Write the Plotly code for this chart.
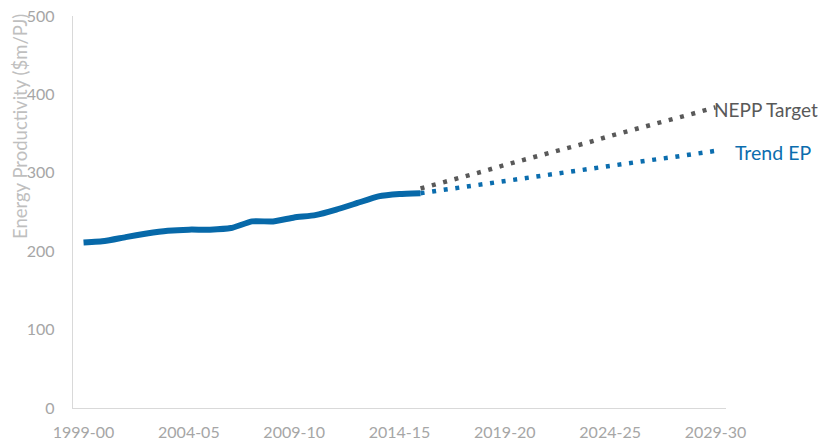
import plotly.graph_objects as go

# Financial years on the category axis
YEARS = [
    "1999-00", "2000-01", "2001-02", "2002-03", "2003-04", "2004-05",
    "2005-06", "2006-07", "2007-08", "2008-09", "2009-10", "2010-11",
    "2011-12", "2012-13", "2013-14", "2014-15", "2015-16", "2016-17",
    "2017-18", "2018-19", "2019-20", "2020-21", "2021-22", "2022-23",
    "2023-24", "2024-25", "2025-26", "2026-27", "2027-28", "2028-29",
    "2029-30",
]
TICK_LABELS = ["1999-00", "2004-05", "2009-10", "2014-15", "2019-20", "2024-25", "2029-30"]

# Historical energy productivity, 1999-00 to 2015-16 ($m/PJ)
HIST_YEARS = YEARS[:17]
HIST_EP = [211, 213, 218, 222.5, 226, 227.5, 227.5, 229.5, 238, 238,
           243, 246, 253, 261.5, 270, 273, 274]

# Projections, 2015-16 to 2029-30
PROJ_YEARS = YEARS[16:]
NEPP_TARGET = [280, 287, 295, 302, 310, 317, 324, 332, 339, 347,
               354, 361, 369, 376, 383.5]
TREND_EP = [274, 278, 282, 285.5, 289.5, 293, 297, 301, 305, 308.5,
            312.5, 316.5, 320, 324, 328]

Y_TICKS = [0, 100, 200, 300, 400, 500]

BLUE = "#0769A9"
BLUE_DOT = "#0B6DAE"
GREY_DOT = "#595959"
AXIS_TEXT = "#A6A6A6"
FONT = "Lato"

fig = go.Figure()

fig.add_trace(go.Scatter(
    x=PROJ_YEARS, y=NEPP_TARGET, mode="lines",
    line=dict(color=GREY_DOT, width=4.5, dash="4px,7.7px"),
    name="NEPP Target", hoverinfo="x+y",
))
fig.add_trace(go.Scatter(
    x=PROJ_YEARS, y=TREND_EP, mode="lines",
    line=dict(color=BLUE_DOT, width=4.5, dash="4px,7.7px"),
    name="Trend EP", hoverinfo="x+y",
))
fig.add_trace(go.Scatter(
    x=HIST_YEARS, y=HIST_EP, mode="lines",
    line=dict(color=BLUE, width=6, shape="spline", smoothing=0.4),
    name="Energy productivity", hoverinfo="x+y",
))

# Series labels at the end of each projection
fig.add_annotation(
    x=PROJ_YEARS[-1], y=NEPP_TARGET[-1], xref="x", yref="y",
    text="NEPP Target", showarrow=False, xanchor="left", yanchor="middle",
    xshift=-3, yshift=-2, font=dict(family=FONT, size=19, color=GREY_DOT),
)
fig.add_annotation(
    x=PROJ_YEARS[-1], y=TREND_EP[-1], xref="x", yref="y",
    text="Trend EP", showarrow=False, xanchor="left", yanchor="middle",
    xshift=18, yshift=-2, font=dict(family=FONT, size=19.5, color=BLUE_DOT),
)

# Vertical axis title
fig.add_annotation(
    x=-0.081, y=0.717, xref="paper", yref="paper",
    text="Energy Productivity ($m/PJ)", showarrow=False, textangle=-90,
    xanchor="center", yanchor="middle",
    font=dict(family=FONT, size=18.5, color="#BFBFBF"),
)

fig.update_layout(
    width=818, height=441,
    margin=dict(l=73, r=92, t=16, b=33),
    paper_bgcolor="white", plot_bgcolor="white",
    showlegend=False,
    font=dict(family=FONT, size=16, color=AXIS_TEXT),
    xaxis=dict(
        type="category", categoryorder="array", categoryarray=YEARS,
        range=[-0.5, len(YEARS) - 0.5], automargin=False,
        tickmode="array", tickvals=TICK_LABELS, ticktext=TICK_LABELS,
        showgrid=False, zeroline=False,
        showline=True, linecolor="#D9D9D9", linewidth=1.3,
        ticks="", ticklabelstandoff=10,
        tickfont=dict(family=FONT, size=16, color=AXIS_TEXT),
    ),
    yaxis=dict(
        range=[0, 500], tickvals=Y_TICKS, automargin=False,
        showgrid=False, zeroline=False,
        showline=True, linecolor="#D9D9D9", linewidth=1.3,
        ticks="", ticklabelstandoff=14,
        tickfont=dict(family=FONT, size=16, color=AXIS_TEXT),
    ),
)

fig.write_html("out.html")
